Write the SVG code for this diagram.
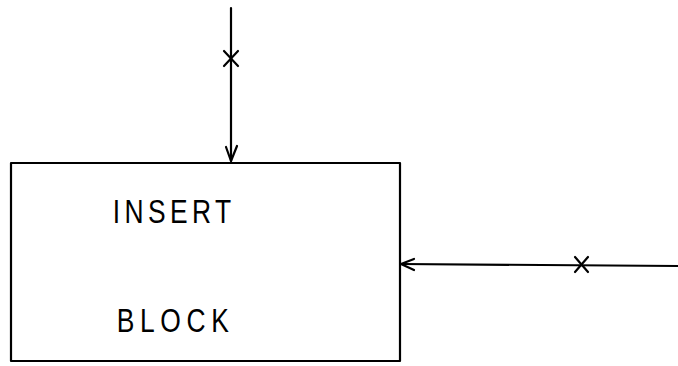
<svg xmlns="http://www.w3.org/2000/svg" width="678" height="366" viewBox="0 0 678 366">
<style>
.ln{fill:none;stroke:#000;stroke-width:2.2;stroke-linecap:round;stroke-linejoin:round}
.lbl{font-family:"Liberation Sans",Arial,sans-serif;font-size:33px;fill:#000}
</style>
<rect width="678" height="366" fill="#fff"/>
<g id="insert-block">
<rect class="ln" x="11" y="163" width="389" height="198"/>
<text class="lbl" transform="scale(0.8,1)" x="141" y="223" textLength="148" lengthAdjust="spacing">INSERT</text>
<text class="lbl" transform="scale(0.8,1)" x="146" y="332" textLength="140" lengthAdjust="spacing">BLOCK</text>
</g>
<g id="connectors">
<g id="top-input">
<line class="ln" x1="231" y1="8" x2="231" y2="161"/>
<polyline class="ln" points="226,147 231,161 237,146"/>
<line class="ln" x1="224" y1="51" x2="238" y2="66"/>
<line class="ln" x1="238" y1="51" x2="224" y2="66"/>
</g>
<g id="right-input">
<line class="ln" x1="401" y1="264" x2="678" y2="266"/>
<polyline class="ln" points="414,259 401,264 414,270"/>
<line class="ln" x1="575" y1="257" x2="588" y2="272"/>
<line class="ln" x1="588" y1="257" x2="575" y2="272"/>
</g>
</g>
</svg>
